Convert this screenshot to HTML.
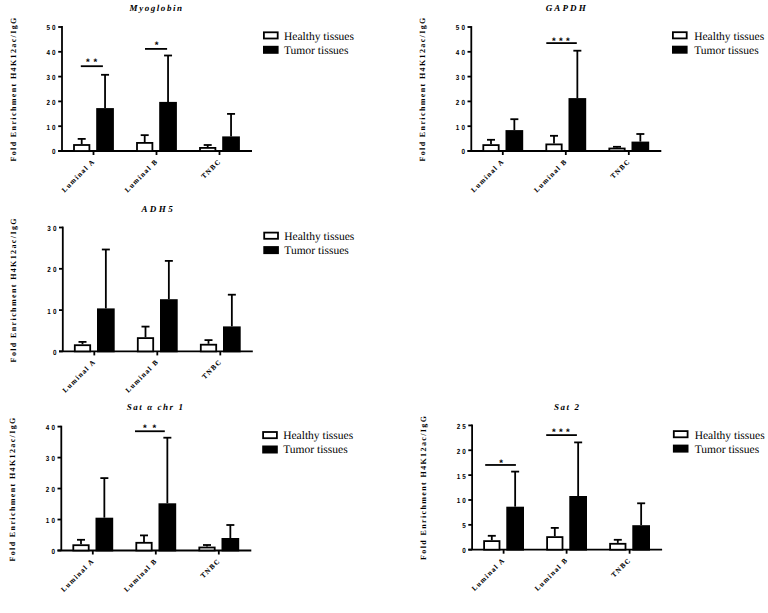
<!DOCTYPE html>
<html><head><meta charset="utf-8"><style>
html,body{margin:0;padding:0;background:#fff;width:768px;height:613px;overflow:hidden}
svg{display:block}
text{fill:#000;text-rendering:geometricPrecision}
</style></head><body>
<svg width="768" height="613" viewBox="0 0 768 613">
<g stroke="#000" stroke-width="1.8" fill="none"><line x1="62" y1="26.1" x2="62" y2="151"/><line x1="58.2" y1="151" x2="252" y2="151"/><line x1="58.2" y1="151" x2="62" y2="151"/><line x1="58.2" y1="126.2" x2="62" y2="126.2"/><line x1="58.2" y1="101.4" x2="62" y2="101.4"/><line x1="58.2" y1="76.6" x2="62" y2="76.6"/><line x1="58.2" y1="51.8" x2="62" y2="51.8"/><line x1="58.2" y1="27" x2="62" y2="27"/><line x1="93.5" y1="151" x2="93.5" y2="155"/><line x1="156.5" y1="151" x2="156.5" y2="155"/><line x1="219.5" y1="151" x2="219.5" y2="155"/><line x1="81.7" y1="144.1" x2="81.7" y2="138.9"/><line x1="77.7" y1="138.9" x2="85.7" y2="138.9"/><line x1="105.05" y1="108.1" x2="105.05" y2="74.8"/><line x1="101.05" y1="74.8" x2="109.05" y2="74.8"/><line x1="144.7" y1="142" x2="144.7" y2="135.15"/><line x1="140.7" y1="135.15" x2="148.7" y2="135.15"/><line x1="168.05" y1="101.9" x2="168.05" y2="55.5"/><line x1="164.05" y1="55.5" x2="172.05" y2="55.5"/><line x1="207.7" y1="147" x2="207.7" y2="145"/><line x1="203.7" y1="145" x2="211.7" y2="145"/><line x1="231.05" y1="136.4" x2="231.05" y2="113.9"/><line x1="227.05" y1="113.9" x2="235.05" y2="113.9"/><line x1="80.8" y1="66.2" x2="102.9" y2="66.2"/><line x1="145" y1="48.9" x2="167.1" y2="48.9"/></g>
<g stroke="#000" stroke-width="1.8"><rect x="74" y="145" width="15.4" height="6" fill="#fff"/><rect x="97.1" y="109" width="15.9" height="42" fill="#000"/><rect x="137" y="142.9" width="15.4" height="8.1" fill="#fff"/><rect x="160.1" y="102.8" width="15.9" height="48.2" fill="#000"/><rect x="200" y="147.9" width="15.4" height="3.1" fill="#fff"/><rect x="223.1" y="137.3" width="15.9" height="13.7" fill="#000"/></g>
<g style='font-family:"Liberation Sans",sans-serif;font-weight:bold;font-size:7.4px;letter-spacing:2.4px'><text transform="translate(57.64,154.4) scale(0.85,1)" text-anchor="end">0</text><text transform="translate(57.64,129.6) scale(0.85,1)" text-anchor="end">10</text><text transform="translate(57.64,104.8) scale(0.85,1)" text-anchor="end">20</text><text transform="translate(57.64,80) scale(0.85,1)" text-anchor="end">30</text><text transform="translate(57.64,55.2) scale(0.85,1)" text-anchor="end">40</text><text transform="translate(57.64,30.4) scale(0.85,1)" text-anchor="end">50</text></g>
<g style='font-family:"Liberation Sans",sans-serif;font-weight:bold;font-size:9.5px'><text x="87.85" y="64.9" text-anchor="middle">*</text><text x="95.45" y="64.9" text-anchor="middle">*</text><text x="156.6" y="47.5" text-anchor="middle">*</text></g>
<g style='font-family:"Liberation Serif",serif;font-weight:bold;font-size:7px;letter-spacing:1.3px;stroke:#000;stroke-width:0.08px'><text transform="translate(94.5,162.6) rotate(-45) translate(1.3,0)" text-anchor="end">Luminal A</text><text transform="translate(157.5,162.6) rotate(-45) translate(1.3,0)" text-anchor="end">Luminal B</text><text transform="translate(220.5,162.6) rotate(-45) translate(1.3,0)" text-anchor="end">TNBC</text></g>
<g style='font-family:"Liberation Serif",serif;font-weight:bold;font-size:8px;letter-spacing:1.38px'><text transform="translate(16.1,17.7) rotate(-90) translate(1.38,0)" text-anchor="end">Fold Enrichment H4K12ac/IgG</text></g>
<g style='font-family:"Liberation Serif",serif;font-weight:bold;font-style:italic;font-size:9px;letter-spacing:1.55px'><text x="156.58" y="10.9" text-anchor="middle" style="letter-spacing:1.55px">Myoglobin</text></g>
<rect x="263.9" y="32.3" width="13.8" height="6.2" fill="#fff" stroke="#000" stroke-width="1.8"/><rect x="263" y="45.8" width="15.6" height="8" fill="#000"/><text x="284" y="39.7" style='font-family:"Liberation Serif",serif;font-size:11.5px'>Healthy tissues</text><text x="284" y="53.7" style='font-family:"Liberation Serif",serif;font-size:11.5px'>Tumor tissues</text>
<g stroke="#000" stroke-width="1.8" fill="none"><line x1="471.3" y1="26.1" x2="471.3" y2="151"/><line x1="467.5" y1="151" x2="661.3" y2="151"/><line x1="467.5" y1="151" x2="471.3" y2="151"/><line x1="467.5" y1="126.2" x2="471.3" y2="126.2"/><line x1="467.5" y1="101.4" x2="471.3" y2="101.4"/><line x1="467.5" y1="76.6" x2="471.3" y2="76.6"/><line x1="467.5" y1="51.8" x2="471.3" y2="51.8"/><line x1="467.5" y1="27" x2="471.3" y2="27"/><line x1="502.8" y1="151" x2="502.8" y2="155"/><line x1="565.8" y1="151" x2="565.8" y2="155"/><line x1="628.8" y1="151" x2="628.8" y2="155"/><line x1="491" y1="144.2" x2="491" y2="139.8"/><line x1="487" y1="139.8" x2="495" y2="139.8"/><line x1="514.35" y1="130.1" x2="514.35" y2="119.2"/><line x1="510.35" y1="119.2" x2="518.35" y2="119.2"/><line x1="554" y1="143.5" x2="554" y2="135.8"/><line x1="550" y1="135.8" x2="558" y2="135.8"/><line x1="577.35" y1="98.1" x2="577.35" y2="50.7"/><line x1="573.35" y1="50.7" x2="581.35" y2="50.7"/><line x1="617" y1="147.6" x2="617" y2="146.8"/><line x1="613" y1="146.8" x2="621" y2="146.8"/><line x1="640.35" y1="141.6" x2="640.35" y2="134"/><line x1="636.35" y1="134" x2="644.35" y2="134"/><line x1="546.3" y1="43.1" x2="576.8" y2="43.1"/></g>
<g stroke="#000" stroke-width="1.8"><rect x="483.3" y="145.1" width="15.4" height="5.9" fill="#fff"/><rect x="506.4" y="131" width="15.9" height="20" fill="#000"/><rect x="546.3" y="144.4" width="15.4" height="6.6" fill="#fff"/><rect x="569.4" y="99" width="15.9" height="52" fill="#000"/><rect x="609.3" y="148.5" width="15.4" height="2.5" fill="#fff"/><rect x="632.4" y="142.5" width="15.9" height="8.5" fill="#000"/></g>
<g style='font-family:"Liberation Sans",sans-serif;font-weight:bold;font-size:7.4px;letter-spacing:2.4px'><text transform="translate(466.94,154.4) scale(0.85,1)" text-anchor="end">0</text><text transform="translate(466.94,129.6) scale(0.85,1)" text-anchor="end">10</text><text transform="translate(466.94,104.8) scale(0.85,1)" text-anchor="end">20</text><text transform="translate(466.94,80) scale(0.85,1)" text-anchor="end">30</text><text transform="translate(466.94,55.2) scale(0.85,1)" text-anchor="end">40</text><text transform="translate(466.94,30.4) scale(0.85,1)" text-anchor="end">50</text></g>
<g style='font-family:"Liberation Sans",sans-serif;font-weight:bold;font-size:9.5px'><text x="553.75" y="44.4" text-anchor="middle">*</text><text x="560.85" y="44.4" text-anchor="middle">*</text><text x="567.75" y="44.4" text-anchor="middle">*</text></g>
<g style='font-family:"Liberation Serif",serif;font-weight:bold;font-size:7px;letter-spacing:1.3px;stroke:#000;stroke-width:0.08px'><text transform="translate(503.8,162.6) rotate(-45) translate(1.3,0)" text-anchor="end">Luminal A</text><text transform="translate(566.8,162.6) rotate(-45) translate(1.3,0)" text-anchor="end">Luminal B</text><text transform="translate(629.8,162.6) rotate(-45) translate(1.3,0)" text-anchor="end">TNBC</text></g>
<g style='font-family:"Liberation Serif",serif;font-weight:bold;font-size:8px;letter-spacing:1.38px'><text transform="translate(424.9,17.7) rotate(-90) translate(1.38,0)" text-anchor="end">Fold Enrichment H4K12ac/IgG</text></g>
<g style='font-family:"Liberation Serif",serif;font-weight:bold;font-style:italic;font-size:9px;letter-spacing:1.55px'><text x="566.77" y="10.9" text-anchor="middle" style="letter-spacing:2.15px">GAPDH</text></g>
<rect x="672.9" y="32.2" width="13.8" height="6.2" fill="#fff" stroke="#000" stroke-width="1.8"/><rect x="672" y="45.7" width="15.6" height="8" fill="#000"/><text x="694.2" y="39.6" style='font-family:"Liberation Serif",serif;font-size:11.5px'>Healthy tissues</text><text x="694.2" y="53.6" style='font-family:"Liberation Serif",serif;font-size:11.5px'>Tumor tissues</text>
<g stroke="#000" stroke-width="1.8" fill="none"><line x1="62.8" y1="226.6" x2="62.8" y2="351.4"/><line x1="59" y1="351.4" x2="252.8" y2="351.4"/><line x1="59" y1="351.4" x2="62.8" y2="351.4"/><line x1="59" y1="310.1" x2="62.8" y2="310.1"/><line x1="59" y1="268.8" x2="62.8" y2="268.8"/><line x1="59" y1="227.5" x2="62.8" y2="227.5"/><line x1="94.3" y1="351.4" x2="94.3" y2="355.4"/><line x1="157.3" y1="351.4" x2="157.3" y2="355.4"/><line x1="220.3" y1="351.4" x2="220.3" y2="355.4"/><line x1="82.5" y1="344.3" x2="82.5" y2="341.9"/><line x1="78.5" y1="341.9" x2="86.5" y2="341.9"/><line x1="105.85" y1="308.4" x2="105.85" y2="249.5"/><line x1="101.85" y1="249.5" x2="109.85" y2="249.5"/><line x1="145.5" y1="337.2" x2="145.5" y2="326.6"/><line x1="141.5" y1="326.6" x2="149.5" y2="326.6"/><line x1="168.85" y1="299.2" x2="168.85" y2="260.9"/><line x1="164.85" y1="260.9" x2="172.85" y2="260.9"/><line x1="208.5" y1="343.8" x2="208.5" y2="340.1"/><line x1="204.5" y1="340.1" x2="212.5" y2="340.1"/><line x1="231.85" y1="326.4" x2="231.85" y2="294.7"/><line x1="227.85" y1="294.7" x2="235.85" y2="294.7"/></g>
<g stroke="#000" stroke-width="1.8"><rect x="74.8" y="345.2" width="15.4" height="6.2" fill="#fff"/><rect x="97.9" y="309.3" width="15.9" height="42.1" fill="#000"/><rect x="137.8" y="338.1" width="15.4" height="13.3" fill="#fff"/><rect x="160.9" y="300.1" width="15.9" height="51.3" fill="#000"/><rect x="200.8" y="344.7" width="15.4" height="6.7" fill="#fff"/><rect x="223.9" y="327.3" width="15.9" height="24.1" fill="#000"/></g>
<g style='font-family:"Liberation Sans",sans-serif;font-weight:bold;font-size:7.4px;letter-spacing:2.4px'><text transform="translate(58.44,354.8) scale(0.85,1)" text-anchor="end">0</text><text transform="translate(58.44,313.5) scale(0.85,1)" text-anchor="end">10</text><text transform="translate(58.44,272.2) scale(0.85,1)" text-anchor="end">20</text><text transform="translate(58.44,230.9) scale(0.85,1)" text-anchor="end">30</text></g>
<g style='font-family:"Liberation Sans",sans-serif;font-weight:bold;font-size:9.5px'></g>
<g style='font-family:"Liberation Serif",serif;font-weight:bold;font-size:7px;letter-spacing:1.3px;stroke:#000;stroke-width:0.08px'><text transform="translate(95.3,363) rotate(-45) translate(1.3,0)" text-anchor="end">Luminal A</text><text transform="translate(158.3,363) rotate(-45) translate(1.3,0)" text-anchor="end">Luminal B</text><text transform="translate(221.3,363) rotate(-45) translate(1.3,0)" text-anchor="end">TNBC</text></g>
<g style='font-family:"Liberation Serif",serif;font-weight:bold;font-size:8px;letter-spacing:1.38px'><text transform="translate(16.4,218.5) rotate(-90) translate(1.38,0)" text-anchor="end">Fold Enrichment H4K12ac/IgG</text></g>
<g style='font-family:"Liberation Serif",serif;font-weight:bold;font-style:italic;font-size:9px;letter-spacing:1.55px'><text x="158.33" y="211.7" text-anchor="middle" style="letter-spacing:2.45px">ADH5</text></g>
<rect x="264.2" y="232.6" width="13.8" height="6.2" fill="#fff" stroke="#000" stroke-width="1.8"/><rect x="263.3" y="246.1" width="15.6" height="8" fill="#000"/><text x="284.3" y="240" style='font-family:"Liberation Serif",serif;font-size:11.5px'>Healthy tissues</text><text x="284.3" y="254" style='font-family:"Liberation Serif",serif;font-size:11.5px'>Tumor tissues</text>
<g stroke="#000" stroke-width="1.8" fill="none"><line x1="61.3" y1="425.7" x2="61.3" y2="550.5"/><line x1="57.5" y1="550.5" x2="251.3" y2="550.5"/><line x1="57.5" y1="550.5" x2="61.3" y2="550.5"/><line x1="57.5" y1="519.52" x2="61.3" y2="519.52"/><line x1="57.5" y1="488.55" x2="61.3" y2="488.55"/><line x1="57.5" y1="457.58" x2="61.3" y2="457.58"/><line x1="57.5" y1="426.6" x2="61.3" y2="426.6"/><line x1="92.8" y1="550.5" x2="92.8" y2="554.5"/><line x1="155.8" y1="550.5" x2="155.8" y2="554.5"/><line x1="218.8" y1="550.5" x2="218.8" y2="554.5"/><line x1="81" y1="544.3" x2="81" y2="539.8"/><line x1="77" y1="539.8" x2="85" y2="539.8"/><line x1="104.35" y1="517.7" x2="104.35" y2="478.1"/><line x1="100.35" y1="478.1" x2="108.35" y2="478.1"/><line x1="144" y1="541.9" x2="144" y2="535.4"/><line x1="140" y1="535.4" x2="148" y2="535.4"/><line x1="167.35" y1="503.3" x2="167.35" y2="437.7"/><line x1="163.35" y1="437.7" x2="171.35" y2="437.7"/><line x1="207" y1="546.6" x2="207" y2="545"/><line x1="203" y1="545" x2="211" y2="545"/><line x1="230.35" y1="538" x2="230.35" y2="525"/><line x1="226.35" y1="525" x2="234.35" y2="525"/><line x1="135" y1="431.25" x2="164.8" y2="431.25"/></g>
<g stroke="#000" stroke-width="1.8"><rect x="73.3" y="545.2" width="15.4" height="5.3" fill="#fff"/><rect x="96.4" y="518.6" width="15.9" height="31.9" fill="#000"/><rect x="136.3" y="542.8" width="15.4" height="7.7" fill="#fff"/><rect x="159.4" y="504.2" width="15.9" height="46.3" fill="#000"/><rect x="199.3" y="547.5" width="15.4" height="3" fill="#fff"/><rect x="222.4" y="538.9" width="15.9" height="11.6" fill="#000"/></g>
<g style='font-family:"Liberation Sans",sans-serif;font-weight:bold;font-size:7.4px;letter-spacing:2.4px'><text transform="translate(56.94,553.9) scale(0.85,1)" text-anchor="end">0</text><text transform="translate(56.94,522.92) scale(0.85,1)" text-anchor="end">10</text><text transform="translate(56.94,491.95) scale(0.85,1)" text-anchor="end">20</text><text transform="translate(56.94,460.98) scale(0.85,1)" text-anchor="end">30</text><text transform="translate(56.94,430) scale(0.85,1)" text-anchor="end">40</text></g>
<g style='font-family:"Liberation Sans",sans-serif;font-weight:bold;font-size:9.5px'><text x="144.75" y="431.3" text-anchor="middle">*</text><text x="154.35" y="431.3" text-anchor="middle">*</text></g>
<g style='font-family:"Liberation Serif",serif;font-weight:bold;font-size:7px;letter-spacing:1.3px;stroke:#000;stroke-width:0.08px'><text transform="translate(93.8,562.1) rotate(-45) translate(1.3,0)" text-anchor="end">Luminal A</text><text transform="translate(156.8,562.1) rotate(-45) translate(1.3,0)" text-anchor="end">Luminal B</text><text transform="translate(219.8,562.1) rotate(-45) translate(1.3,0)" text-anchor="end">TNBC</text></g>
<g style='font-family:"Liberation Serif",serif;font-weight:bold;font-size:8px;letter-spacing:1.38px'><text transform="translate(15.1,417.7) rotate(-90) translate(1.38,0)" text-anchor="end">Fold Enrichment H4K12ac/IgG</text></g>
<g style='font-family:"Liberation Serif",serif;font-weight:bold;font-style:italic;font-size:9px;letter-spacing:1.55px'><text x="155.58" y="410.3" text-anchor="middle" style="letter-spacing:1.55px">Sat α chr 1</text></g>
<rect x="263.1" y="432" width="13.8" height="6.2" fill="#fff" stroke="#000" stroke-width="1.8"/><rect x="262.2" y="445.5" width="15.6" height="8" fill="#000"/><text x="283.2" y="439.4" style='font-family:"Liberation Serif",serif;font-size:11.5px'>Healthy tissues</text><text x="283.2" y="453.4" style='font-family:"Liberation Serif",serif;font-size:11.5px'>Tumor tissues</text>
<g stroke="#000" stroke-width="1.8" fill="none"><line x1="472.1" y1="424.5" x2="472.1" y2="549.7"/><line x1="468.3" y1="549.7" x2="662.1" y2="549.7"/><line x1="468.3" y1="549.7" x2="472.1" y2="549.7"/><line x1="468.3" y1="524.84" x2="472.1" y2="524.84"/><line x1="468.3" y1="499.98" x2="472.1" y2="499.98"/><line x1="468.3" y1="475.12" x2="472.1" y2="475.12"/><line x1="468.3" y1="450.26" x2="472.1" y2="450.26"/><line x1="468.3" y1="425.4" x2="472.1" y2="425.4"/><line x1="503.6" y1="549.7" x2="503.6" y2="553.7"/><line x1="566.6" y1="549.7" x2="566.6" y2="553.7"/><line x1="629.6" y1="549.7" x2="629.6" y2="553.7"/><line x1="491.8" y1="540.2" x2="491.8" y2="535.8"/><line x1="487.8" y1="535.8" x2="495.8" y2="535.8"/><line x1="515.15" y1="506.7" x2="515.15" y2="471.6"/><line x1="511.15" y1="471.6" x2="519.15" y2="471.6"/><line x1="554.8" y1="536.2" x2="554.8" y2="527.9"/><line x1="550.8" y1="527.9" x2="558.8" y2="527.9"/><line x1="578.15" y1="496" x2="578.15" y2="442.4"/><line x1="574.15" y1="442.4" x2="582.15" y2="442.4"/><line x1="617.8" y1="542.9" x2="617.8" y2="539.8"/><line x1="613.8" y1="539.8" x2="621.8" y2="539.8"/><line x1="641.15" y1="525.2" x2="641.15" y2="503.3"/><line x1="637.15" y1="503.3" x2="645.15" y2="503.3"/><line x1="485.2" y1="464.97" x2="515.9" y2="464.97"/><line x1="546.2" y1="435.1" x2="576.9" y2="435.1"/></g>
<g stroke="#000" stroke-width="1.8"><rect x="484.1" y="541.1" width="15.4" height="8.6" fill="#fff"/><rect x="507.2" y="507.6" width="15.9" height="42.1" fill="#000"/><rect x="547.1" y="537.1" width="15.4" height="12.6" fill="#fff"/><rect x="570.2" y="496.9" width="15.9" height="52.8" fill="#000"/><rect x="610.1" y="543.8" width="15.4" height="5.9" fill="#fff"/><rect x="633.2" y="526.1" width="15.9" height="23.6" fill="#000"/></g>
<g style='font-family:"Liberation Sans",sans-serif;font-weight:bold;font-size:7.4px;letter-spacing:2.4px'><text transform="translate(467.74,553.1) scale(0.85,1)" text-anchor="end">0</text><text transform="translate(467.74,528.24) scale(0.85,1)" text-anchor="end">5</text><text transform="translate(467.74,503.38) scale(0.85,1)" text-anchor="end">10</text><text transform="translate(467.74,478.52) scale(0.85,1)" text-anchor="end">15</text><text transform="translate(467.74,453.66) scale(0.85,1)" text-anchor="end">20</text><text transform="translate(467.74,428.8) scale(0.85,1)" text-anchor="end">25</text></g>
<g style='font-family:"Liberation Sans",sans-serif;font-weight:bold;font-size:9.5px'><text x="501.15" y="466.05" text-anchor="middle">*</text><text x="553.85" y="435.3" text-anchor="middle">*</text><text x="560.75" y="435.3" text-anchor="middle">*</text><text x="567.75" y="435.3" text-anchor="middle">*</text></g>
<g style='font-family:"Liberation Serif",serif;font-weight:bold;font-size:7px;letter-spacing:1.3px;stroke:#000;stroke-width:0.08px'><text transform="translate(504.6,561.3) rotate(-45) translate(1.3,0)" text-anchor="end">Luminal A</text><text transform="translate(567.6,561.3) rotate(-45) translate(1.3,0)" text-anchor="end">Luminal B</text><text transform="translate(630.6,561.3) rotate(-45) translate(1.3,0)" text-anchor="end">TNBC</text></g>
<g style='font-family:"Liberation Serif",serif;font-weight:bold;font-size:8px;letter-spacing:1.38px'><text transform="translate(425.8,416.1) rotate(-90) translate(1.38,0)" text-anchor="end">Fold Enrichment H4K12ac/IgG</text></g>
<g style='font-family:"Liberation Serif",serif;font-weight:bold;font-style:italic;font-size:9px;letter-spacing:1.55px'><text x="567.27" y="409.9" text-anchor="middle" style="letter-spacing:1.55px">Sat 2</text></g>
<rect x="673.8" y="431.1" width="13.8" height="6.2" fill="#fff" stroke="#000" stroke-width="1.8"/><rect x="672.9" y="444.6" width="15.6" height="8" fill="#000"/><text x="694.7" y="438.5" style='font-family:"Liberation Serif",serif;font-size:11.5px'>Healthy tissues</text><text x="694.7" y="452.5" style='font-family:"Liberation Serif",serif;font-size:11.5px'>Tumor tissues</text>
</svg>
</body></html>
